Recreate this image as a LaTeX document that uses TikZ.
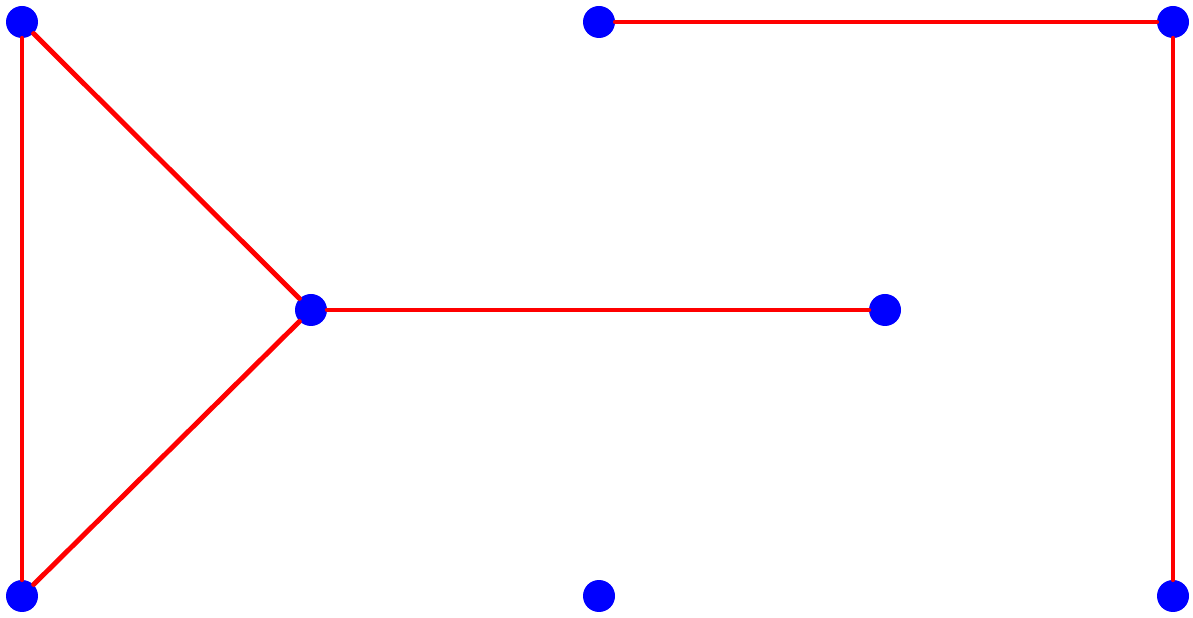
\documentclass[tikz,border=0pt]{standalone}
\usetikzlibrary{positioning}

\begin{document}
\begin{tikzpicture}[x=0.02cm,y=0.02cm]
\tikzset{
  graphnode/.style={circle,fill=blue,draw=none,minimum size=0.64cm,inner sep=0pt},
  graphedge/.style={draw=red,line width=2.8pt,line cap=round,line join=round},
  undirected/.style={graphedge}
}
\useasboundingbox (0,0) rectangle (1193,618);
\node[graphnode] (n_L1) at (22,596) {};
\node[graphnode] (n_L2) at (22,22) {};
\node[graphnode] (n_C) at (311,308) {};
\node[graphnode] (n_R) at (885,308) {};
\node[graphnode] (n_T1) at (599,596) {};
\node[graphnode] (n_T2) at (1173,596) {};
\node[graphnode] (n_B1) at (599,22) {};
\node[graphnode] (n_B2) at (1173,22) {};
\draw[undirected] (n_L1) -- (n_L2);
\draw[undirected] (n_L1) -- (n_C);
\draw[undirected] (n_L2) -- (n_C);
\draw[undirected] (n_C) -- (n_R);
\draw[undirected] (n_T1) -- (n_T2);
\draw[undirected] (n_T2) -- (n_B2);
\end{tikzpicture}
\end{document}
